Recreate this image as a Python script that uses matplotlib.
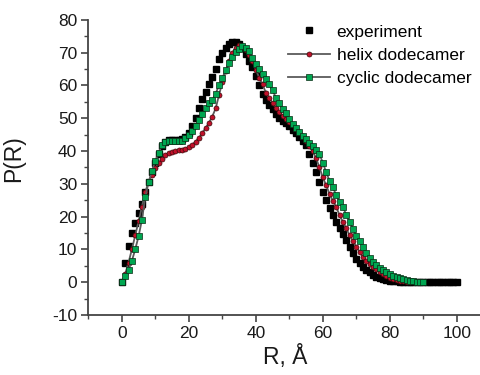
import numpy as np
import matplotlib
matplotlib.use('Agg')
import matplotlib.pyplot as plt
from matplotlib.ticker import MultipleLocator

plt.rcParams['font.family'] = ['Liberation Sans', 'DejaVu Sans']
plt.rcParams['axes.unicode_minus'] = False

# ── Data ──────────────────────────────────────────────────────────────────────
r_exp = np.arange(0, 101)
p_exp = [0, 6, 11, 15, 18, 21, 24, 27.5, 30.5, 33.5,
         36.5, 39, 41.5, 42.8, 43.3, 43.5, 43.5, 43.5, 43.8, 44.3,
         45.5, 47.5, 50, 53, 56, 58, 60.5, 62.5, 65, 68,
         70, 71.5, 72.7, 73.2, 73.2, 72.5, 71.5, 69.5, 67.5, 65.5,
         63, 60, 57.5, 55.5, 54, 52.8, 51.4, 50.2, 49.2, 48.4,
         47.6, 46.5, 45.5, 44.3, 43.2, 41.8, 39, 36.5, 33.5, 30.5,
         27.5, 25, 22.7, 20.5, 18.5, 16.6, 14.8, 12.8, 10.8, 8.8,
         7.2, 5.8, 4.7, 3.8, 3.0, 2.3, 1.7, 1.2, 0.9, 0.7,
         0.5, 0.4, 0.3, 0.2, 0.2, 0.1, 0.1, 0.1, 0.1, 0.1,
         0.1, 0.1, 0.1, 0.1, 0.1, 0.1, 0.1, 0.1, 0.1, 0.1, 0.1]

r_helix = np.arange(0, 91)
p_helix = [0, 2.5, 6, 10, 14.3, 18.6, 23, 27.5, 30.6, 32.8,
           34.8, 36.3, 37.7, 38.8, 39.4, 39.8, 40.1, 40.2, 40.3, 40.6,
           41.2, 41.9, 42.9, 44, 45.5, 47, 48.6, 50.5, 53, 57,
           61, 64.3, 67.5, 70, 71.5, 72.2, 72, 70.8, 69.3, 67.5,
           64.8, 62.4, 60.3, 57.8, 56.2, 54.6, 53.2, 51.9, 50.8, 49.8,
           48.8, 47.8, 46.8, 45.7, 44.5, 43, 41.5, 40, 37.8, 35,
           32, 29.5, 27, 24.8, 23, 20.4, 18.4, 16.4, 14.3, 12.6,
           10.8, 9.2, 7.7, 6.6, 5.6, 4.7, 3.9, 3.1, 2.5, 1.9,
           1.4, 1.0, 0.7, 0.5, 0.3, 0.2, 0.1, 0.1, 0, 0, 0]

r_cyclic = np.arange(0, 91)
p_cyclic = [0, 2, 3.8, 6.5, 10, 14, 19, 26, 30.5, 34,
            37, 39.5, 41.8, 42.7, 43, 43, 43, 43, 43.2, 44,
            45, 46, 47.5, 49.5, 51.3, 53, 54.5, 55.5, 57.5, 60,
            62.2, 64.7, 66.8, 68.8, 70.3, 71.2, 72, 71.5, 70.5, 68.5,
            66.5, 65, 63.5, 62, 60.3, 58.5, 56.3, 54.5, 52.8, 51.5,
            49.8, 48.3, 47, 45.7, 44.7, 43.7, 42.5, 41.5, 40.3, 39,
            36.5, 33.5, 31, 29, 26.5, 24.5, 23, 20.5, 18.5, 16.3,
            14.2, 12.5, 10.7, 9, 7.5, 6.2, 5.2, 4.4, 3.6, 3.0,
            2.5, 2.0, 1.6, 1.2, 0.9, 0.6, 0.4, 0.3, 0.2, 0.1, 0.1]

# ── Figure ────────────────────────────────────────────────────────────────────
fig = plt.figure(figsize=(4.8, 3.75), dpi=100)
ax = fig.add_axes([0.184, 0.16, 0.8375, 0.787])

ax.plot(r_exp, p_exp, linestyle='none', marker='s', markersize=4.5,
        color='black', markeredgecolor='black', label='experiment', zorder=2)
ax.plot(r_helix, p_helix, linestyle='-', color='#5a5a5a', lw=1.3,
        marker='o', markersize=3.6, markerfacecolor='#c0102a',
        markeredgecolor='#3a0a0a', markeredgewidth=0.5,
        label='helix dodecamer', zorder=3)
ax.plot(r_cyclic, p_cyclic, linestyle='-', color='#5a5a5a', lw=1.3,
        marker='s', markersize=3.8, markerfacecolor='#00a651',
        markeredgecolor='#0a2a14', markeredgewidth=0.5,
        label='cyclic dodecamer', zorder=4)

ax.set_xlim(-10, 110)
ax.set_ylim(-10, 80)
ax.xaxis.set_minor_locator(MultipleLocator(10))
ax.yaxis.set_major_locator(MultipleLocator(10))
ax.yaxis.set_minor_locator(MultipleLocator(5))
ax.set_xticks([0, 20, 40, 60, 80, 100])

for s in ['top', 'right']:
    ax.spines[s].set_visible(False)
for s in ['left', 'bottom']:
    ax.spines[s].set_color('#444444')
    ax.spines[s].set_linewidth(1.3)

ax.tick_params(which='major', direction='out', length=5, width=1.2,
               color='#444444', labelsize=12.5, labelcolor='#1a1a1a', pad=3)
ax.tick_params(which='minor', direction='out', length=3, width=1.0,
               color='#444444')

ax.set_xlabel('R, Å', fontsize=16.5, color='#1a1a1a', va='top')
ax.set_ylabel('P(R)', fontsize=16.5, color='#1a1a1a')
ax.xaxis.set_label_coords(0.49, -0.103)
ax.yaxis.set_label_coords(-0.158, 0.53)

ax.legend(loc='upper left', bbox_to_anchor=(0.60, 0.935),
          bbox_transform=fig.transFigure, frameon=False, fontsize=12.5,
          handlelength=2.4, handletextpad=0.4, labelspacing=0.46,
          borderaxespad=0, borderpad=0, numpoints=1)

fig.savefig('out.png', dpi=100)
